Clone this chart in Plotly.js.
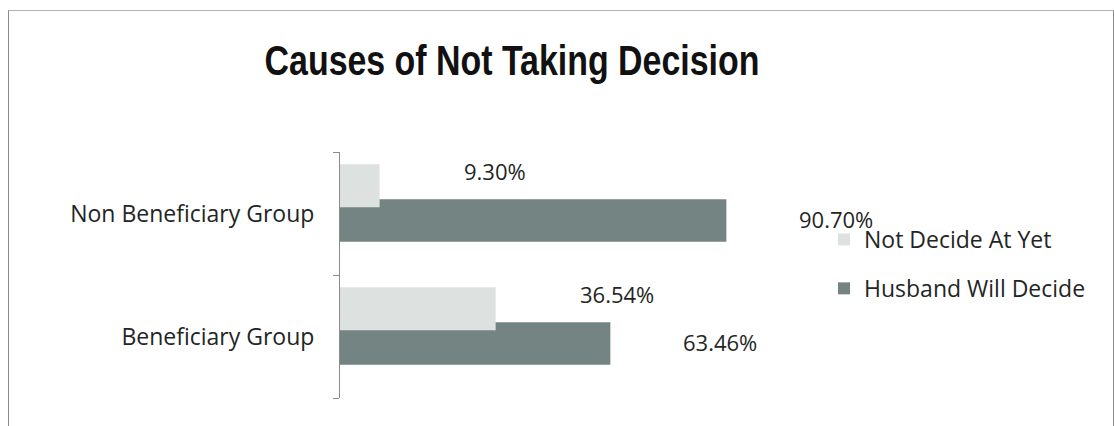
<!DOCTYPE html>
<html>
<head>
<meta charset="utf-8">
<script src="https://cdn.plot.ly/plotly-3.0.1.min.js"></script>
<style>
  html, body { margin: 0; padding: 0; background: #ffffff; }
  #wrap { position: relative; width: 1114px; height: 426px; overflow: hidden; }
  #chart { width: 1114px; height: 426px; }
  #frame { position: absolute; left: 8px; top: 10px; width: 1104px; height: 430px;
           border-left: 1px solid #8a8a8a; border-top: 1px solid #b0b0b0; border-right: 1px solid #8a8a8a;
           pointer-events: none; }
</style>
</head>
<body>
<div id="wrap">
  <div id="chart"></div>
  <div id="frame"></div>
</div>
<script>
// ---- data ----
const categories = ['Beneficiary Group', 'Non Beneficiary Group'];
const seriesNames = ['Not Decide At Yet', 'Husband Will Decide'];
const notDecideAtYet = [36.54, 9.30];
const husbandWillDecide = [63.46, 90.70];

const txtFont = 'Open Sans, Liberation Sans, sans-serif';
const txtColor = '#1f2625';

const traceHusband = {
  type: 'bar', orientation: 'h',
  name: seriesNames[1], legendgroup: 'b', legendrank: 2,
  y: categories, x: husbandWillDecide,
  offset: -0.23, width: 0.345,
  marker: { color: '#738482', line: { width: 0 } },
  hoverinfo: 'skip'
};
const traceNotDecide = {
  type: 'bar', orientation: 'h',
  name: seriesNames[0], legendgroup: 'a', legendrank: 1,
  y: categories, x: notDecideAtYet,
  offset: 0.05, width: 0.35,
  marker: { color: '#dde2e1', line: { width: 0 } },
  hoverinfo: 'skip'
};

const annotations = [];
categories.forEach((c, i) => {
  annotations.push({
    x: notDecideAtYet[i], y: c, xref: 'x', yref: 'y',
    text: notDecideAtYet[i].toFixed(2) + '%', showarrow: false,
    xanchor: 'left', yanchor: 'middle', xshift: 82, yshift: 43,
    font: { family: txtFont, size: 22, color: txtColor }
  });
  annotations.push({
    x: husbandWillDecide[i], y: c, xref: 'x', yref: 'y',
    text: husbandWillDecide[i].toFixed(2) + '%', showarrow: false,
    xanchor: 'left', yanchor: 'middle', xshift: 71, yshift: -5,
    font: { family: txtFont, size: 22, color: txtColor }
  });
});

const layout = {
  width: 1114, height: 426,
  margin: { l: 340, r: 348, t: 152, b: 28, pad: 0 },
  paper_bgcolor: '#ffffff', plot_bgcolor: '#ffffff',
  barmode: 'overlay',
  title: {
    text: 'Causes of Not Taking Decision',
    font: { family: 'Liberation Sans, Arial, sans-serif', size: 42, weight: 'bold', color: '#111111' },
    xref: 'container', x: 512 / 1114, xanchor: 'center',
    yref: 'container', y: 1 - 60 / 426, yanchor: 'middle'
  },
  xaxis: {
    range: [0, 100], showgrid: false, zeroline: false, showline: false,
    showticklabels: false, ticks: '', fixedrange: true
  },
  yaxis: {
    type: 'category', range: [-0.5, 1.5],
    showgrid: false, zeroline: false,
    showline: true, linecolor: '#8a8a8a', linewidth: 1,
    ticks: 'outside', ticklen: 6, tickcolor: '#8a8a8a', tickwidth: 1,
    tickson: 'boundaries', ticklabelstandoff: 20,
    tickfont: { family: txtFont, size: 23, color: txtColor },
    fixedrange: true
  },
  legend: {
    x: (824 - 340) / 426, xanchor: 'left',
    y: (398 - 218) / 246, yanchor: 'top',
    traceorder: 'grouped', tracegroupgap: 16,
    font: { family: txtFont, size: 23, color: txtColor },
    bgcolor: 'rgba(0,0,0,0)', borderwidth: 0
  },
  showlegend: true,
  annotations: annotations
};

Plotly.newPlot('chart', [traceHusband, traceNotDecide], layout, { displayModeBar: false, staticPlot: true })
  .then(gd => {
    // Condense the bold title horizontally to mimic the narrow original typeface.
    const t = gd.querySelector('.gtitle');
    if (t) {
      const bb = t.getBBox();
      const target = 495;
      if (bb.width > 0) {
        const s = target / bb.width;
        const cx = bb.x + bb.width / 2;
        t.setAttribute('transform', `translate(${cx},0) scale(${s},1) translate(${-cx},0)`);
      }
    }
  });
</script>
</body>
</html>
